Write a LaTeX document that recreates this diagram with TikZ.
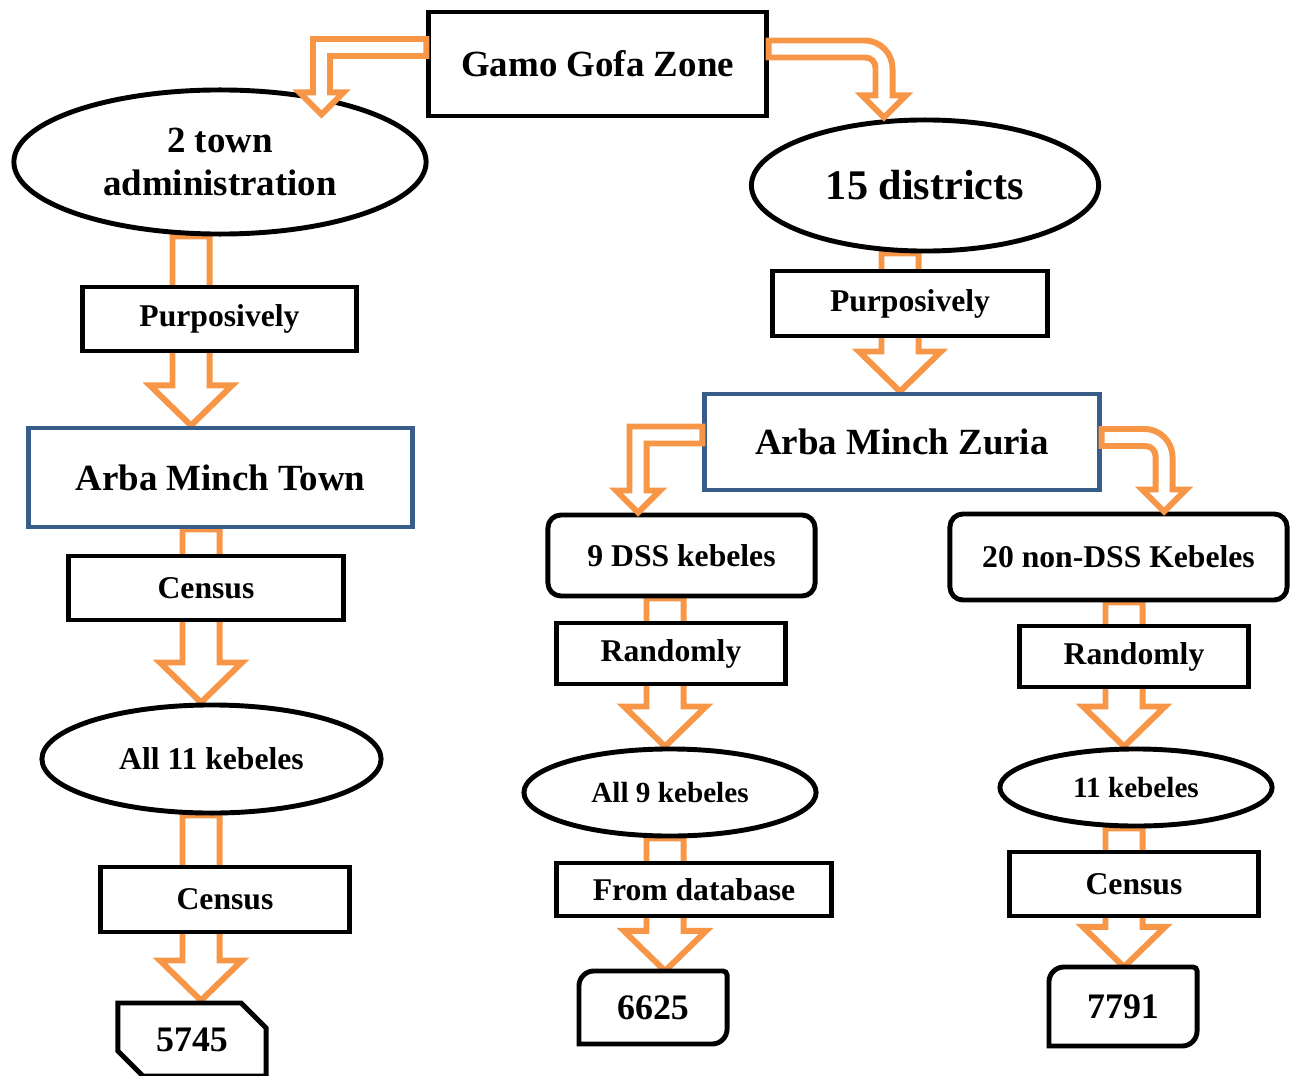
\documentclass[tikz,border=0pt]{standalone}
\usepackage{fontspec}
\setmainfont{Liberation Serif}
\definecolor{accentsix}{RGB}{247,150,70}
\definecolor{accentone}{RGB}{56,93,138}
\usetikzlibrary{
  backgrounds,
  calc,
  shapes.geometric,
  shapes.misc,
}
\tikzset{
  every node/.style={align=center},
}
\newcommand{\blockdown}[3]{%
  \path[blockarrow] let \p1=(#1.south), \p2=($(#2.north)+(#3,0)$) in
    (\x2-0.185cm,\y1) -- (\x2-0.185cm,\y2+0.4cm) -- (\x2-0.41cm,\y2+0.4cm)
    -- (\p2) -- (\x2+0.41cm,\y2+0.4cm) -- (\x2+0.185cm,\y2+0.4cm)
    -- (\x2+0.185cm,\y1) -- cycle;}
\newcommand{\bentleft}[4]{%
  \path[blockarrow] let \p1=($(#1.west)+(0,#2)$), \p2=($(#3.north)+(#4)$) in
    (\x1,\y1+0.085cm) -- (\x2-0.085cm,\y1+0.085cm) -- (\x2-0.085cm,\y2+0.22cm)
    -- (\x2-0.22cm,\y2+0.22cm) -- (\p2) -- (\x2+0.22cm,\y2+0.22cm)
    -- (\x2+0.085cm,\y2+0.22cm) -- (\x2+0.085cm,\y1-0.085cm)
    -- (\x1,\y1-0.085cm) -- cycle;}
\newcommand{\bentright}[4]{%
  \path[blockarrow] let \p1=($(#1.east)+(0,#2)$), \p2=($(#3.north)+(#4)$) in
    (\x1,\y1+0.085cm) [rounded corners=0.28cm] -- (\x2+0.085cm,\y1+0.085cm)
    [sharp corners] -- (\x2+0.085cm,\y2+0.22cm) -- (\x2+0.22cm,\y2+0.22cm)
    -- (\p2) -- (\x2-0.22cm,\y2+0.22cm) -- (\x2-0.085cm,\y2+0.22cm)
    [rounded corners=0.1cm] -- (\x2-0.085cm,\y1-0.085cm)
    [sharp corners] -- (\x1,\y1-0.085cm) -- cycle;}
\newcommand{\roundcut}[1]{%
  \draw[line width=1.4pt] (#1.south west) [rounded corners=0.15cm] -- (#1.north west)
    [rounded corners=0.04cm] -- (#1.north east) [rounded corners=0.15cm] -- (#1.south east)
    [sharp corners] -- cycle;}

\begin{document}
\begin{tikzpicture}[x=0.01cm, y=-0.01cm,
    box/.style={draw, line width=1.4pt, fill=white, inner sep=0},
    bluebox/.style={box, draw=accentone},
    roundbox/.style={box, rounded corners=0.13cm},
    oval/.style={ellipse, draw, line width=1.4pt, fill=white, inner sep=0},
    numbox/.style={fill=white, inner sep=0, outer sep=0, minimum width=1.48cm},
    blockarrow/.style={draw=accentsix, line width=1.7pt, fill=white, line join=miter},
    big/.style={font=\fontsize{10.5}{12}\selectfont\bfseries},
    huge/.style={font=\fontsize{12}{14}\selectfont\bfseries},
    mid/.style={font=\fontsize{9}{11}\selectfont\bfseries},
    small/.style={font=\fontsize{8.3}{10}\selectfont\bfseries},
    num/.style={font=\fontsize{10.2}{12}\selectfont\bfseries}]
  \useasboundingbox (0,0) rectangle (1297,1076);

  \node[box, big, minimum width=3.37cm, minimum height=1.04cm] (zone) at (597.5,64) {Gamo Gofa Zone};
  \node[oval, big, minimum width=4.12cm, minimum height=1.44cm] (town) at (220,162) {2 town\\administration};
  \node[oval, huge, minimum width=3.47cm, minimum height=1.31cm] (districts) at (925,185.5) {15 districts};

  \node[box, mid, minimum width=2.73cm, minimum height=0.64cm] (purpl) at (219.5,319) {Purposively};
  \node[box, mid, minimum width=2.74cm, minimum height=0.65cm] (purpr) at (910,303.5) {Purposively};
  \node[bluebox, big, minimum width=3.83cm, minimum height=0.99cm] (amtown) at (220.5,477.5) {Arba Minch Town};
  \node[bluebox, big, minimum width=3.94cm, minimum height=0.96cm] (zuria) at (902,442) {Arba Minch Zuria};

  \node[box, mid, minimum width=2.74cm, minimum height=0.64cm] (censusa) at (206,588) {Census};
  \node[oval, mid, minimum width=3.39cm, minimum height=1.08cm] (alleleven) at (211.5,759) {All 11 kebeles};
  \node[box, mid, minimum width=2.48cm, minimum height=0.65cm] (censusb) at (225,899.5) {Census};
  \node[chamfered rectangle, chamfered rectangle corners={north east,south west},
        chamfered rectangle xsep=0.13cm, chamfered rectangle ysep=0.13cm,
        draw, line width=1.4pt, fill=white, inner sep=0, num,
        minimum width=1.48cm, minimum height=0.73cm] (nleft) at (192,1039.5) {5745};

  \node[roundbox, mid, minimum width=2.67cm, minimum height=0.81cm] (dss) at (681.5,555.5) {9 DSS kebeles};
  \node[roundbox, mid, minimum width=3.37cm, minimum height=0.86cm] (nondss) at (1118.5,557) {20 non-DSS Kebeles};
  \node[box, mid, minimum width=2.28cm, minimum height=0.61cm] (randa) at (671,653.5) {Randomly};
  \node[box, mid, minimum width=2.28cm, minimum height=0.61cm] (randb) at (1134,656.5) {Randomly};
  \node[oval, small, minimum width=2.92cm, minimum height=0.87cm] (allnine) at (670,792.5) {All 9 kebeles};
  \node[oval, small, minimum width=2.72cm, minimum height=0.77cm] (eleven) at (1136,787.5) {11 kebeles};
  \node[box, mid, minimum width=2.74cm, minimum height=0.53cm] (database) at (694,889.5) {From database};
  \node[box, mid, minimum width=2.48cm, minimum height=0.64cm] (censusc) at (1134,884) {Census};
  \node[numbox, num, minimum height=0.73cm] (nmid) at (653,1007.5) {6625};
  \node[numbox, num, minimum height=0.79cm] (nright) at (1123,1006.5) {7791};
  \roundcut{nmid}
  \roundcut{nright}

  \begin{scope}[on background layer]
    \blockdown{town}{amtown}{-29.5}
    \blockdown{districts}{zuria}{-2}
    \blockdown{amtown}{alleleven}{-10.5}
    \blockdown{alleleven}{nleft}{9}
    \blockdown{dss}{allnine}{-5}
    \blockdown{allnine}{nmid}{12}
    \blockdown{nondss}{eleven}{-12}
    \blockdown{eleven}{nright}{1}
  \end{scope}

  \bentleft{zone}{-16.5}{town}{101.5,27}
  \bentright{zone}{-15}{districts}{-41,0}
  \bentleft{zuria}{-7}{dss}{-43.5,0}
  \bentright{zuria}{-4.5}{nondss}{45.5,0}
\end{tikzpicture}
\end{document}
